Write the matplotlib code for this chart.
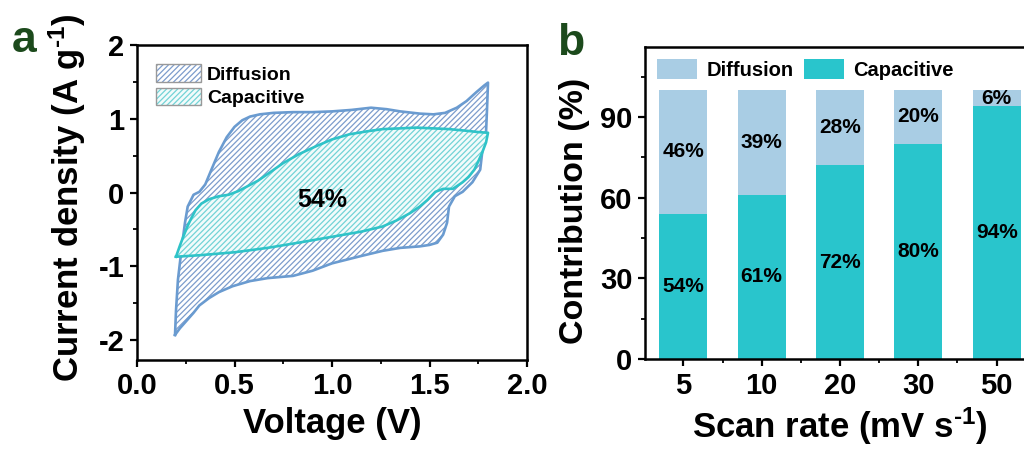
import numpy as np
import matplotlib
matplotlib.use("Agg")
import matplotlib.pyplot as plt
import matplotlib.patches as mpatches
from matplotlib.legend_handler import HandlerTuple
from matplotlib.ticker import MultipleLocator

plt.rcParams['font.family'] = ['Liberation Sans', 'DejaVu Sans']
plt.rcParams['font.weight'] = 'bold'
plt.rcParams['axes.labelweight'] = 'bold'
plt.rcParams['axes.unicode_minus'] = False
plt.rcParams['mathtext.fontset'] = 'custom'
plt.rcParams['mathtext.rm'] = 'Liberation Sans:bold'
plt.rcParams['mathtext.bf'] = 'Liberation Sans:bold'
plt.rcParams['mathtext.default'] = 'bf'
plt.rcParams['hatch.linewidth'] = 0.9

# ---- panel a: CV curve (total = diffusion outline, inner = capacitive)
outer_up_V = [0.195, 0.20, 0.21, 0.23, 0.246, 0.26, 0.29, 0.32, 0.35, 0.38, 0.42, 0.46, 0.50, 0.54,
              0.58, 0.63, 0.70, 0.80, 0.90, 1.00, 1.10, 1.20, 1.28, 1.35, 1.45, 1.52, 1.58, 1.64,
              1.69, 1.74, 1.78, 1.80]
outer_up_I = [-1.93, -1.60, -1.18, -0.73, -0.41, -0.19, -0.03, 0.01, 0.11, 0.30, 0.55, 0.75, 0.89, 0.98,
              1.03, 1.06, 1.08, 1.09, 1.09, 1.10, 1.12, 1.15, 1.13, 1.10, 1.07, 1.06, 1.08, 1.15,
              1.24, 1.36, 1.45, 1.49]
outer_dn_V = [1.80, 1.795, 1.79, 1.77, 1.76, 1.72, 1.67, 1.63, 1.60, 1.59, 1.57, 1.54, 1.50, 1.45,
              1.35, 1.26, 1.15, 1.00, 0.90, 0.80, 0.67, 0.58, 0.49, 0.42, 0.37, 0.32, 0.29, 0.25,
              0.22, 0.195]
outer_dn_I = [1.49, 1.13, 0.82, 0.54, 0.31, 0.14, 0.01, -0.05, -0.19, -0.41, -0.57, -0.68, -0.71, -0.73,
              -0.75, -0.79, -0.86, -0.96, -1.06, -1.13, -1.16, -1.20, -1.27, -1.35, -1.43, -1.53, -1.63, -1.75,
              -1.84, -1.93]

inner_up_V = [0.20, 0.22, 0.24, 0.26, 0.28, 0.30, 0.33, 0.37, 0.42, 0.47, 0.52, 0.57, 0.62, 0.68,
              0.75, 0.83, 0.92, 1.00, 1.09, 1.18, 1.26, 1.35, 1.43, 1.52, 1.60, 1.68, 1.75, 1.80]
inner_up_I = [-0.87, -0.72, -0.58, -0.45, -0.34, -0.24, -0.15, -0.09, -0.05, -0.03, 0.02, 0.09, 0.16, 0.27,
              0.40, 0.52, 0.63, 0.72, 0.79, 0.83, 0.86, 0.87, 0.88, 0.87, 0.86, 0.84, 0.82, 0.81]
inner_dn_V = [1.80, 1.79, 1.77, 1.75, 1.73, 1.70, 1.67, 1.62, 1.57, 1.53, 1.49, 1.45, 1.40, 1.33,
              1.26, 1.15, 1.00, 0.85, 0.67, 0.50, 0.32, 0.20]
inner_dn_I = [0.81, 0.68, 0.54, 0.42, 0.31, 0.21, 0.14, 0.05, 0.05, 0.01, -0.10, -0.19, -0.28, -0.38,
              -0.46, -0.53, -0.60, -0.67, -0.75, -0.81, -0.85, -0.87]
cv_label = '54%'

# ---- panel b: contribution bars
scan_rates = ['5', '10', '20', '30', '50']
capacitive = [54, 61, 72, 80, 94]
diffusion = [46, 39, 28, 20, 6]

c_blue_line = '#6a9bd0'
c_blue_hatch = '#7c9ccc'
c_cyan_line = '#2fc3c8'
c_cyan_hatch = '#72d3d6'
c_bar_cap = '#29c5cc'
c_bar_dif = '#a9cde4'
c_panel = '#1c4a1c'
hatch = '//////'

fig = plt.figure(figsize=(10.24, 4.5), dpi=100)
ax1 = fig.add_axes([137 / 1024, 0.2, 390 / 1024, 0.7])
ax2 = fig.add_axes([645 / 1024, 1 - 359 / 450, 390 / 1024, 312 / 450])

ov = outer_up_V + outer_dn_V
oi = outer_up_I + outer_dn_I
iv = inner_up_V + inner_dn_V
ii = inner_up_I + inner_dn_I

ax1.fill(ov, oi, facecolor='white', edgecolor=c_blue_hatch, hatch=hatch, linewidth=0, zorder=1)
ax1.plot(ov + [ov[0]], oi + [oi[0]], color=c_blue_line, lw=1.9, zorder=2)
ax1.fill(iv, ii, facecolor='#f2fbfb', edgecolor=c_cyan_hatch, hatch=hatch, linewidth=0, zorder=3)
ax1.plot(iv + [iv[0]], ii + [ii[0]], color=c_cyan_line, lw=1.9, zorder=4)
ax1.text(0.95, -0.1, cv_label, fontsize=18, ha='center', va='center', zorder=5)

ax1.set_xlim(0, 2.0)
ax1.set_ylim(-2.27, 2)
ax1.xaxis.set_major_locator(MultipleLocator(0.5))
ax1.xaxis.set_minor_locator(MultipleLocator(0.25))
ax1.yaxis.set_major_locator(MultipleLocator(1))
ax1.yaxis.set_minor_locator(MultipleLocator(0.5))
ax1.xaxis.set_major_formatter(matplotlib.ticker.FormatStrFormatter('%.1f'))
ax1.set_xlabel('Voltage (V)', fontsize=25, labelpad=5)
ax1.set_ylabel(r'Current density (A g$^{\text{-1}}$)', fontsize=25, va='center')
ax1.yaxis.set_label_coords(-0.18, 0.517)

h_dif = (mpatches.Patch(facecolor='white', edgecolor=c_blue_hatch, hatch=hatch, lw=0),
         mpatches.Patch(facecolor='none', edgecolor='#999999', lw=1.0))
h_cap = (mpatches.Patch(facecolor='#f2fbfb', edgecolor=c_cyan_hatch, hatch=hatch, lw=0),
         mpatches.Patch(facecolor='none', edgecolor='#999999', lw=1.0))
ax1.legend([h_dif, h_cap], ['Diffusion', 'Capacitive'], handler_map={tuple: HandlerTuple(ndivide=1)},
           loc='upper left', frameon=False, fontsize=14, handlelength=2.3, handleheight=1.0,
           handletextpad=0.3, labelspacing=0.2, borderaxespad=0.6, borderpad=0.4)

x = np.arange(len(scan_rates))
ax2.bar(x, capacitive, width=0.61, color=c_bar_cap, zorder=2)
ax2.bar(x, diffusion, width=0.61, bottom=capacitive, color=c_bar_dif, zorder=2)
for xi, c, d in zip(x, capacitive, diffusion):
    ax2.text(xi, c / 2, f'{c}%', ha='center', va='center', fontsize=15, zorder=3)
    ax2.text(xi, c + d / 2, f'{d}%', ha='center', va='center', fontsize=15, zorder=3)

ax2.set_xlim(-0.49, 4.49)
ax2.set_ylim(0, 116)
ax2.set_xticks(x)
ax2.set_xticklabels(scan_rates)
ax2.set_xticks(x[:-1] + 0.5, minor=True)
ax2.yaxis.set_major_locator(MultipleLocator(30))
ax2.yaxis.set_minor_locator(MultipleLocator(15))
ax2.set_xlabel(r'Scan rate (mV s$^{\text{-1}}$)', fontsize=25, labelpad=4)
ax2.set_ylabel('Contribution (%)', fontsize=24.5, va='center')
ax2.yaxis.set_label_coords(-0.18, 0.475)

leg_dif = mpatches.Patch(facecolor=c_bar_dif)
leg_cap = mpatches.Patch(facecolor=c_bar_cap)
ax2.legend([leg_dif, leg_cap], ['Diffusion', 'Capacitive'], ncol=2, loc='upper left', frameon=False,
           fontsize=14.5, handlelength=2.0, handleheight=1.15, handletextpad=0.45,
           columnspacing=0.5, borderaxespad=0.5, borderpad=0.1)

for ax in (ax1, ax2):
    for s in ax.spines.values():
        s.set_linewidth(1.8)
    ax.tick_params(which='major', direction='out', length=5, width=1.6, labelsize=21, pad=4)
    ax.tick_params(which='minor', direction='out', length=3, width=1.3)

fig.text(12 / 1024, 1 - 52 / 450, 'a', fontsize=32, color=c_panel, ha='left', va='baseline')
fig.text(557 / 1024, 1 - 55 / 450, 'b', fontsize=32, color=c_panel, ha='left', va='baseline')

fig.savefig('out.png', dpi=100)
